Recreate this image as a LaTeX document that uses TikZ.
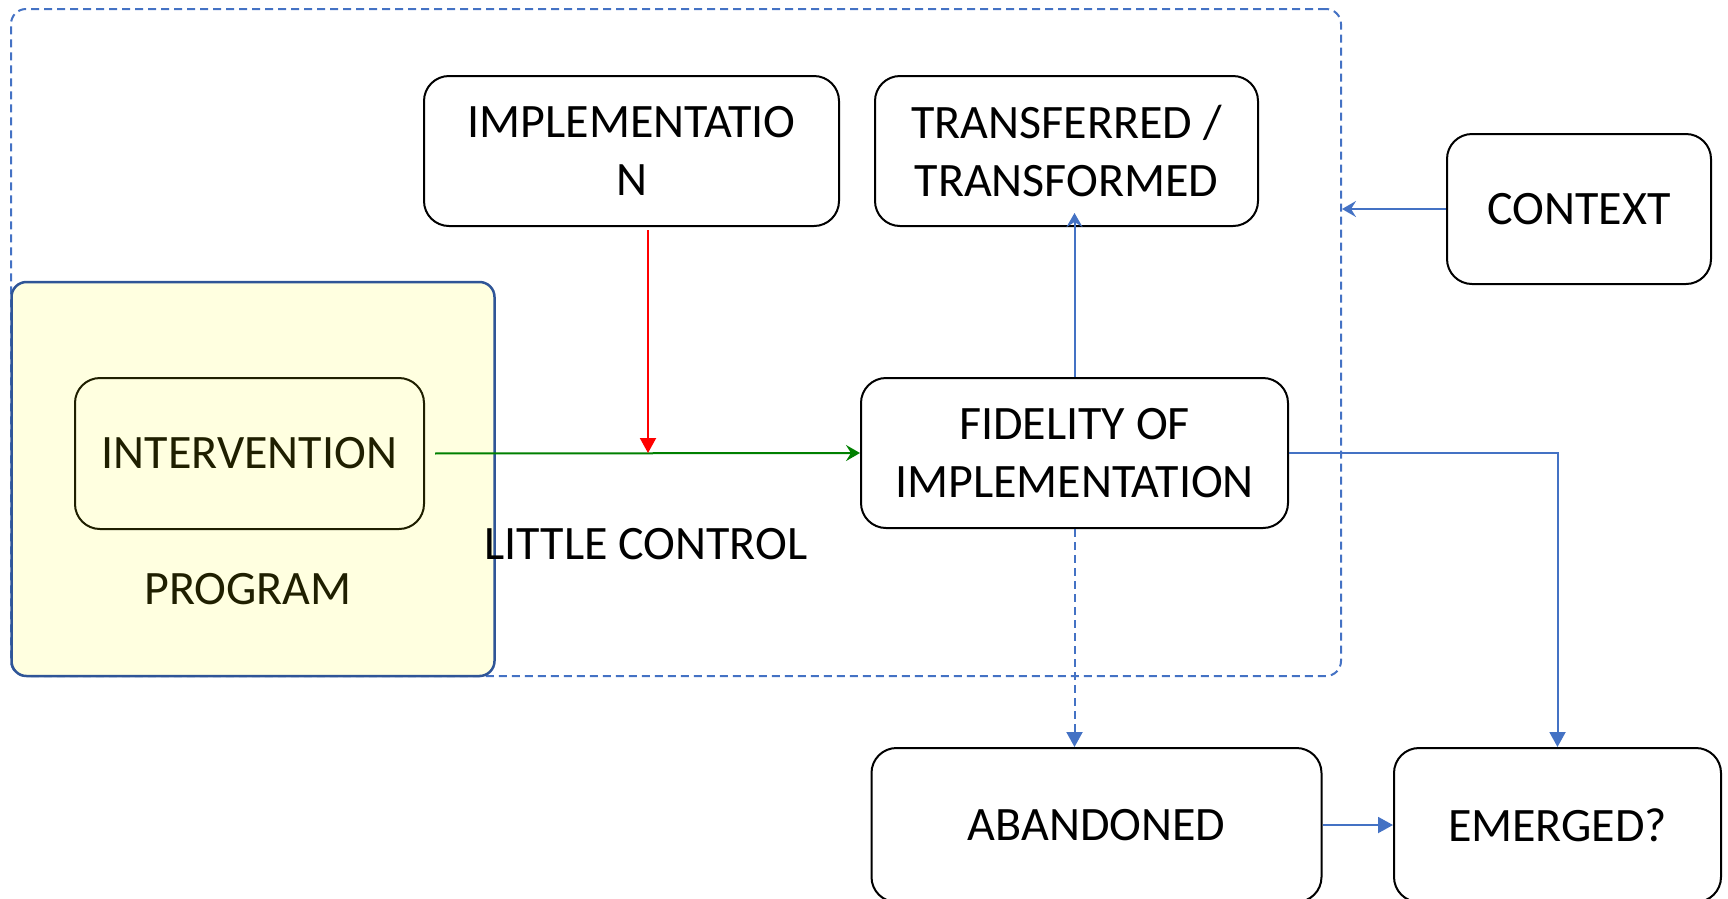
\documentclass[tikz,border=0pt]{standalone}
\usepackage{fontspec}
\setmainfont{Carlito}
\usetikzlibrary{arrows.meta}
\definecolor{linkblue}{HTML}{4472C4}
\definecolor{progblue}{HTML}{2F5597}
\definecolor{progfill}{HTML}{FFFFE0}
\definecolor{olive}{HTML}{1F1F00}
\definecolor{flowgreen}{HTML}{008000}
\tikzset{
  every node/.style={font=\fontsize{48}{58}\selectfont, align=center, inner sep=0pt},
  stagebox/.style={draw=black, line width=2pt, rounded corners=25pt, fill=white},
  bluelink/.style={draw=linkblue, line width=2pt},
  tri/.style={-{Triangle[length=15pt,width=16pt]}},
  openhead/.style={-{Stealth[length=14pt,width=16pt,inset=5pt]}},
}
\begin{document}
\begin{tikzpicture}[x=1pt,y=-1pt]
\useasboundingbox (0,0) rectangle (1728,898);

% dashed frame around the implementation setting
\node[draw=linkblue, line width=2pt, dash pattern=on 8pt off 5pt, rounded corners=15pt,
      minimum width=1330pt, minimum height=667pt] (frame) at (676,342.5) {};

% program with its intervention
\node[draw=progblue, line width=2.5pt, fill=progfill, rounded corners=15pt,
      minimum width=483pt, minimum height=394pt] (program) at (253,479) {};
\node[draw=olive, line width=2pt, rounded corners=25pt, text=olive,
      minimum width=349pt, minimum height=151pt] (intervention) at (249.5,453.5) {INTERVENTION};
\node[text=olive] (proglabel) at (248,589) {PROGRAM};

% stages
\node[stagebox, minimum width=415pt, minimum height=150pt] (impl) at (631.5,151) {IMPLEMENTATIO\\N};
\node[stagebox, minimum width=383pt, minimum height=150pt] (trans) at (1066.5,151) {TRANSFERRED /\\TRANSFORMED};
\node[stagebox, minimum width=264pt, minimum height=150pt] (context) at (1579,209) {CONTEXT};
\node[stagebox, minimum width=427pt, minimum height=150pt] (fidelity) at (1074.5,453) {FIDELITY OF\\IMPLEMENTATION};
\node[stagebox, minimum width=450pt, minimum height=154pt] (abandoned) at (1096.5,825) {ABANDONED};
\node[stagebox, minimum width=327pt, minimum height=154pt] (emerged) at (1557.5,825) {EMERGED?};

\node (little) at (646,544) {LITTLE CONTROL};

% connectors
\coordinate (join) at (648,453);
\draw[flowgreen, line width=2pt, openhead, shorten <=10pt] (intervention.east) -- (fidelity.west);
\draw[red, line width=2pt, tri, shorten <=3pt] (join |- impl.south) -- (join);
\draw[bluelink, openhead, shorten >=-14pt] (fidelity.north) -- (fidelity.north |- trans.south);
\draw[bluelink, openhead] (context.west) -- (context.west -| frame.east);
\draw[bluelink, tri] (fidelity.east) -| (emerged.north);
\draw[bluelink, tri, dash pattern=on 8pt off 5pt] (fidelity.south) -- (fidelity.south |- abandoned.north);
\draw[bluelink, tri] (abandoned.east) -- (emerged.west);
\end{tikzpicture}
\end{document}
